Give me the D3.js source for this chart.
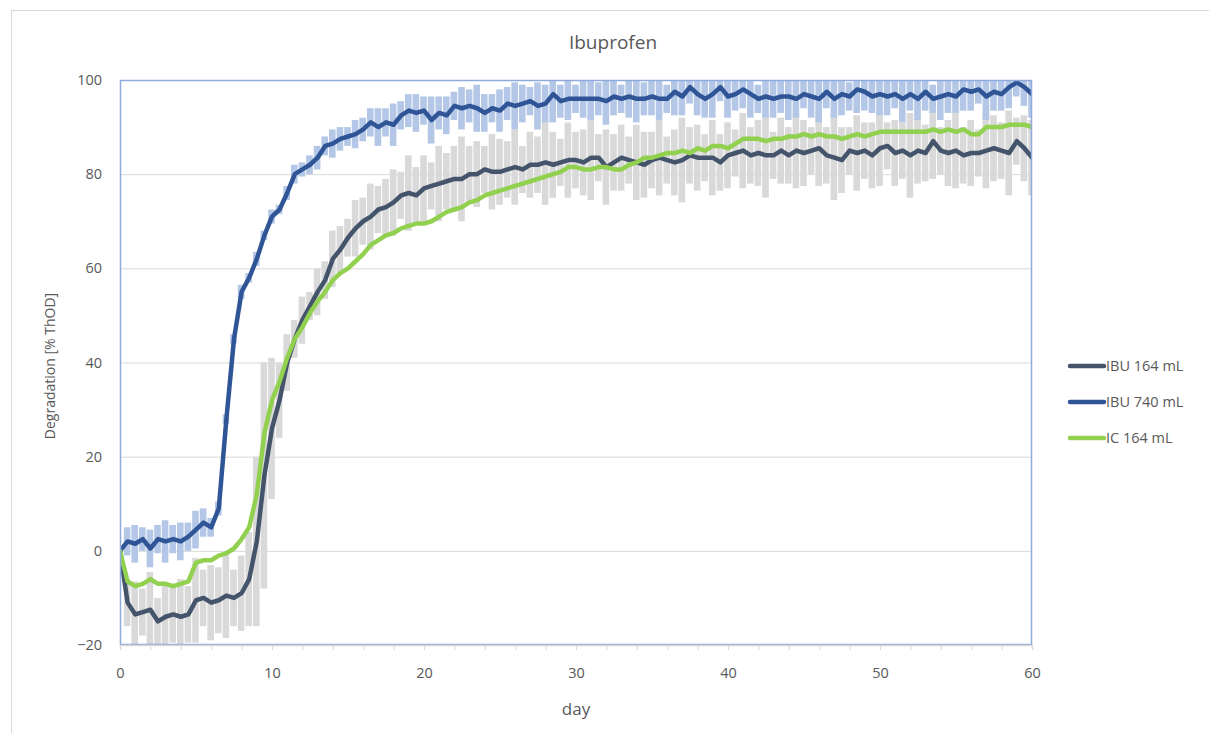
<!DOCTYPE html>
<html>
<head>
<meta charset="utf-8">
<script src="https://cdn.jsdelivr.net/npm/d3@7"></script>
<style>
  body { margin: 0; background: #fff; }
  text { font-family: "Open Sans", "Liberation Sans", sans-serif; fill: #595959; }
</style>
</head>
<body>
<div id="chart"></div>
<script>
// sampling every half day, 0..60
var days = d3.range(0, 60.5, 0.5);

var ibu164 = [0,-11,-13.5,-13,-12.5,-15,-14,-13.5,-14,-13.5,
  -10.5,-10,-11,-10.5,-9.5,-10,-9,-6,2,16,
  26,32,40,45,49,52,55,57.5,62,64,
  66.5,68.5,70,71,72.5,73,74,75.5,76,75.5,
  77,77.5,78,78.5,79,79,80,80,81,80.5,
  80.5,81,81.5,81,82,82,82.5,82,82.5,83,
  83,82.5,83.5,83.5,81.5,82.5,83.5,83,82.5,82,
  83,83.5,83,82.5,83,84,83.5,83.5,83.5,82.5,
  84,84.5,85,84,84.5,84,84,85,84,85,
  84.5,85,85.5,84,83.5,83,85,84.5,85,84,
  85.5,86,84.5,85,84,85,84.5,87,85,84.5,
  85,84,84.5,84.5,85,85.5,85,84.5,87,85.5,83.5];

var ibu740 = [0,2,1.5,2.5,0.5,2.5,2,2.5,2,3,
  4.5,6,5,9,28,45,55,58,62,67,
  71,72.5,76,80,81,82,83.5,86,86.5,87.5,
  88,88.5,89.5,91,90,91,90.5,92.5,93.5,93,
  93.5,91.5,93,92.5,94.5,94,94.5,94,93,94,
  93.5,95,94.5,95,95.5,94.5,95,97,95.5,96,
  96,96,96,96,95.5,96.5,96,96.5,96,96,
  96.5,96,96,97.5,96.5,98.5,97,96,97,98.5,
  96.5,97,98,97,96,96.5,96,96.5,96.5,96,
  97,96.5,96,97.5,96,97,96.5,98,97.5,96.5,
  97,96.5,97,96,97,96,97.5,96,96.5,97,
  96.5,98,97.5,98,96.5,97.5,97,98.5,99.5,98.5,97];

var ic164 = [0,-6.5,-7.5,-7,-6,-7,-7,-7.5,-7,-6.5,
  -2.5,-2,-2,-1,-0.5,0.5,2.5,5,12,25,
  32,36,41,45,47.5,50.5,53,55,57.5,59,
  60,61.5,63,65,66,67,67.5,68.5,69,69.5,
  69.5,70,71,72,72.5,73,74,74.5,75.5,76,
  76.5,77,77.5,78,78.5,79,79.5,80,80.5,81.5,
  81.5,81,81,81.5,81.5,81,81,82,82.5,83.5,
  83.5,84,84.5,84.5,85,84.5,85.5,85,86,86,
  85.5,86.5,87.5,87.5,87.5,87,87.5,87.5,88,88,
  88.5,88,88.5,88,88,87.5,88,88.5,88,88.5,
  89,89,89,89,89,89,89,89.5,89,89.5,
  89,89.5,88.5,88.5,90,90,90,90.5,90.5,90.5,90];

// standard deviations (error bars)
var sd164 = [0,5,7,5,8,5,7,6,8,6,
  9,6,8,7,9,6,8,10,18,24,
  15,8,6,4,5,3,5,4,6,5,
  4,6,5,7,5,6,7,5,8,6,
  7,5,8,6,7,9,6,7,5,8,
  7,6,8,5,7,6,9,7,5,8,
  6,7,9,5,8,6,7,5,8,7,
  6,8,5,7,9,6,7,5,8,6,
  7,5,8,6,7,9,5,7,6,8,
  7,5,8,6,9,7,5,8,6,7,
  8,5,7,6,9,7,6,8,5,7,
  8,6,7,5,8,7,6,9,5,7,8];

var sd740 = [0,3,4,2.5,4,3,4.5,3,4,3,
  4,3,2,1.5,1,1,1.5,1,1.5,1,
  1.5,1,1.5,2,1.5,2,2.5,2,3,2.5,
  2,3,2.5,3,4,3,4.5,3,3.5,4,
  3,5,3.5,4,3,4.5,3.5,5,4,3,
  4.5,3.5,5,4,3,5,4,6,3.5,4.5,
  3,4,4.5,3.5,5,4,3,4.5,5,3.5,
  4,4.5,3,5,4,3.5,4.5,4,5,3,
  4.5,3.5,4,5,3,4.5,4,3.5,5,4,
  3,4.5,5,3.5,4,4.5,3,5,4,3.5,
  4.5,4,3,5,3.5,4.5,4,3,5,4,
  3.5,4.5,4,3,5,4,3.5,4.5,3,4,5];

var seriesNames = ["IBU 164 mL", "IBU 740 mL", "IC 164 mL"];
var seriesColors = ["#44546A", "#2F5597", "#92D050"];
var yTicks = [-20, 0, 20, 40, 60, 80, 100];

var W = 1209, H = 733;
var svg = d3.select("#chart").append("svg")
  .attr("width", W).attr("height", H);

// outer chart frame
svg.append("rect")
  .attr("x", 11.5).attr("y", 10.5)
  .attr("width", 1220).attr("height", 760)
  .attr("fill", "#fff").attr("stroke", "#D9D9D9");

var x = d3.scaleLinear().domain([0, 60]).range([120, 1032]);
var y = d3.scaleLinear().domain([-20, 100]).range([645, 80]);
var step = x(0.5) - x(0);

svg.append("defs").append("clipPath").attr("id", "plotClip")
  .append("rect").attr("x", 120).attr("y", 80)
  .attr("width", 912).attr("height", 565);

// gridlines
svg.append("g").selectAll("line")
  .data(yTicks.filter(function(d){ return d > -20 && d < 100; }))
  .enter().append("line")
  .attr("x1", x(0)).attr("x2", x(60))
  .attr("y1", function(d){ return y(d) + 0.5; })
  .attr("y2", function(d){ return y(d) + 0.5; })
  .attr("stroke", "#D9D9D9").attr("stroke-width", 1);

var plot = svg.append("g").attr("clip-path", "url(#plotClip)");

// error bars
function errBars(vals, sds, color) {
  plot.append("g").selectAll("rect")
    .data(days)
    .enter().append("rect")
    .attr("x", function(d){ return x(d) - step / 2; })
    .attr("width", step - 1)
    .attr("y", function(d, i){ return y(vals[i] + sds[i]); })
    .attr("height", function(d, i){ return y(vals[i] - sds[i]) - y(vals[i] + sds[i]); })
    .attr("fill", color);
}
errBars(ibu164, sd164, "#D9D9D9");
errBars(ibu740, sd740, "#B4C7E7");

// plot border
svg.append("rect")
  .attr("x", 120.5).attr("y", 80.5)
  .attr("width", 911).attr("height", 564)
  .attr("fill", "none").attr("stroke", "#8FAADC").attr("stroke-width", 1.5);

// x axis
var xAxis = d3.axisBottom(x)
  .tickValues(d3.range(0, 61, 2))
  .tickSize(5)
  .tickFormat(function(d){ return d % 10 === 0 ? d : ""; });
var gx = svg.append("g").attr("transform", "translate(0,645)").call(xAxis);
gx.select(".domain").attr("stroke", "#D9D9D9").attr("stroke-width", 1.5);
gx.selectAll(".tick line").attr("stroke", "#D9D9D9");
gx.selectAll(".tick text").attr("dy", "1.7em")
  .style("font-size", "14.5px").attr("fill", "#595959");

// y axis labels
var yAxis = d3.axisLeft(y).tickValues(yTicks).tickSize(0).tickPadding(18);
var gy = svg.append("g").attr("transform", "translate(120,0)").call(yAxis);
gy.select(".domain").remove();
gy.selectAll(".tick text").style("font-size", "14.5px").attr("fill", "#595959");

// series lines
var allSeries = [ibu164, ibu740, ic164];
var line = d3.line()
  .x(function(d){ return x(d[0]); })
  .y(function(d){ return y(d[1]); });

allSeries.forEach(function(vals, k) {
  plot.append("path")
    .datum(days.map(function(d, i){ return [d, vals[i]]; }))
    .attr("fill", "none")
    .attr("stroke", seriesColors[k])
    .attr("stroke-width", 4.5)
    .attr("stroke-linejoin", "round")
    .attr("stroke-linecap", "round")
    .attr("d", line);
});

// title and axis titles
svg.append("text").attr("x", 613).attr("y", 49)
  .attr("text-anchor", "middle").style("font-size", "19px").text("Ibuprofen");
svg.append("text").attr("x", 576).attr("y", 715)
  .attr("text-anchor", "middle").style("font-size", "17px").text("day");
svg.append("text")
  .attr("transform", "translate(55,366) rotate(-90)")
  .attr("text-anchor", "middle").style("font-size", "14px")
  .text("Degradation [% ThOD]");

// legend
var legend = svg.append("g").selectAll("g")
  .data(seriesNames).enter().append("g")
  .attr("transform", function(d, i){ return "translate(1070," + (366 + i * 36) + ")"; });
legend.append("line")
  .attr("x1", 0).attr("x2", 34).attr("y1", 0).attr("y2", 0)
  .attr("stroke", function(d, i){ return seriesColors[i]; })
  .attr("stroke-width", 4.5).attr("stroke-linecap", "round");
legend.append("text")
  .attr("x", 36).attr("y", 5)
  .style("font-size", "14.5px")
  .text(function(d){ return d; });
</script>
</body>
</html>
